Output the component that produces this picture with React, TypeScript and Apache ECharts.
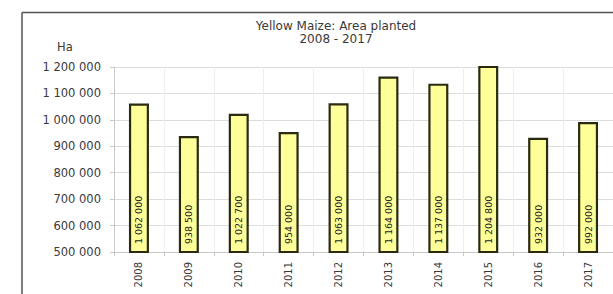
import React, { useEffect, useRef } from "react";
import * as echarts from "echarts";

const years = ["2008", "2009", "2010", "2011", "2012", "2013", "2014", "2015", "2016", "2017"];
const areaPlanted = [1062000, 938500, 1022700, 954000, 1063000, 1164000, 1137000, 1204800, 932000, 992000];
const titleLines = ["Yellow Maize: Area planted", "2008 - 2017"];
const unitLabel = "Ha";

const fmt = (v: number) => String(Math.round(v)).replace(/\B(?=(\d{3})+(?!\d))/g, " ");

export default function App() {
  const ref = useRef<HTMLDivElement>(null);
  useEffect(() => {
    if (!ref.current) return;
    const chart = echarts.init(ref.current, null, { renderer: "svg" });
    const font = "DejaVu Sans";
    chart.setOption({
      animation: false,
      backgroundColor: "#ffffff",
      title: {
        text: titleLines.join("\n"),
        left: 331,
        top: 14,
        textAlign: "center",
        textStyle: { fontFamily: font, fontSize: 12, fontWeight: "normal", color: "#3a3a3a", lineHeight: 13 },
      },
      graphic: [
        { type: "line", shape: { x1: 22, y1: 12.5, x2: 613, y2: 12.5 }, style: { stroke: "#555", lineWidth: 1.5 } },
        { type: "line", shape: { x1: 22, y1: 12.5, x2: 22, y2: 294 }, style: { stroke: "#555", lineWidth: 1.5 } },
        {
          type: "text",
          left: 57,
          top: 41,
          style: { text: unitLabel, fontFamily: font, fontSize: 11.5, fill: "#3a3a3a" },
        },
      ],
      grid: { left: 114, right: 0, top: 67, bottom: 42 },
      xAxis: {
        type: "category",
        data: years,
        axisLine: { lineStyle: { color: "#c8c8c8" } },
        axisTick: { show: true, length: 4, lineStyle: { color: "#c8c8c8" } },
        splitLine: { show: true, lineStyle: { color: "#eeeeee" } },
        axisLabel: { rotate: 90, fontFamily: font, fontSize: 10, color: "#3a3a3a", margin: 10 },
      },
      yAxis: {
        type: "value",
        min: 500000,
        max: 1200000,
        interval: 100000,
        axisLine: { show: true, lineStyle: { color: "#c8c8c8" } },
        axisTick: { show: true, length: 4, lineStyle: { color: "#c8c8c8" } },
        splitLine: { lineStyle: { color: "#dcdcdc" } },
        axisLabel: { fontFamily: font, fontSize: 11.5, color: "#3a3a3a", margin: 13, formatter: (v: number) => fmt(v) },
      },
      series: [
        {
          type: "bar",
          data: areaPlanted,
          barWidth: 20,
          itemStyle: { color: "#ffff99", borderColor: "#2a2a10", borderWidth: 2.2 },
          label: {
            show: true,
            position: "insideBottom",
            rotate: 90,
            align: "left",
            verticalAlign: "middle",
            distance: 9,
            fontFamily: font,
            fontSize: 9.5,
            color: "#222",
            formatter: (p: any) => fmt(p.value),
          },
        },
      ],
    });
    return () => chart.dispose();
  }, []);
  return <div ref={ref} style={{ width: 613, height: 294, position: "absolute", left: 0, top: 0 }} />;
}
